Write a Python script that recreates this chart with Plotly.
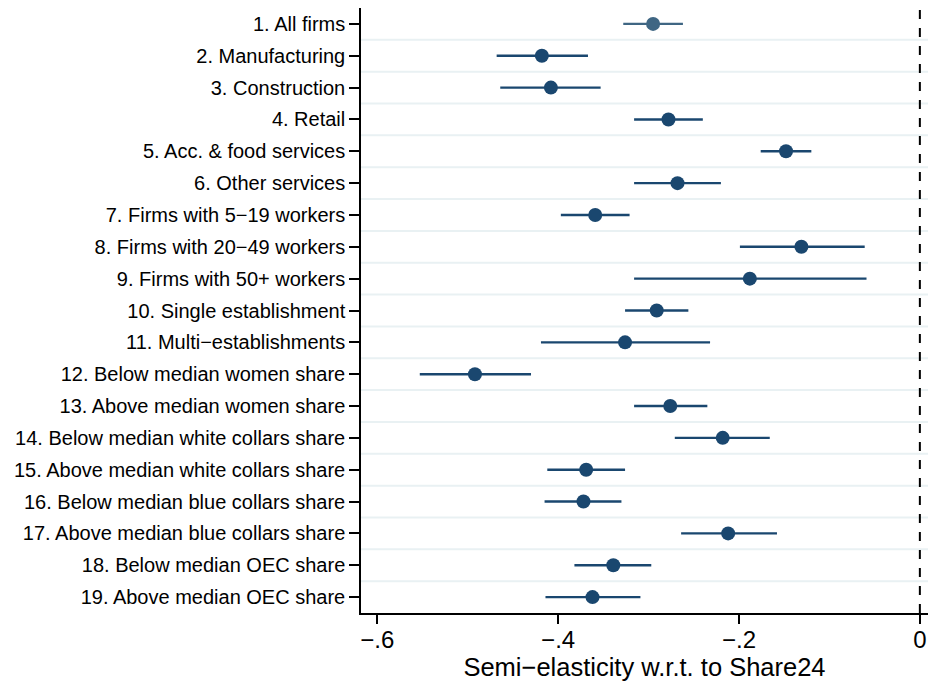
import plotly.graph_objects as go

categories = [
    "1. All firms",
    "2. Manufacturing",
    "3. Construction",
    "4. Retail",
    "5. Acc. & food services",
    "6. Other services",
    "7. Firms with 5−19 workers",
    "8. Firms with 20−49 workers",
    "9. Firms with 50+ workers",
    "10. Single establishment",
    "11. Multi−establishments",
    "12. Below median women share",
    "13. Above median women share",
    "14. Below median white collars share",
    "15. Above median white collars share",
    "16. Below median blue collars share",
    "17. Above median blue collars share",
    "18. Below median OEC share",
    "19. Above median OEC share",
]
estimate = [-0.295, -0.418, -0.408, -0.278, -0.148, -0.268, -0.359, -0.131, -0.188,
            -0.291, -0.326, -0.492, -0.276, -0.218, -0.369, -0.372, -0.212, -0.339, -0.362]
ci_low = [-0.328, -0.468, -0.464, -0.316, -0.176, -0.316, -0.397, -0.199, -0.316,
          -0.326, -0.419, -0.553, -0.316, -0.271, -0.412, -0.415, -0.264, -0.382, -0.414]
ci_high = [-0.262, -0.367, -0.353, -0.240, -0.120, -0.220, -0.321, -0.061, -0.059,
           -0.256, -0.232, -0.430, -0.235, -0.166, -0.326, -0.330, -0.158, -0.297, -0.309]
x_ticks = [-0.6, -0.4, -0.2, 0]
x_tick_labels = ["−.6", "−.4", "−.2", "0"]

pos = list(range(1, len(categories) + 1))
plus = [h - e for h, e in zip(ci_high, estimate)]
minus = [e - l for e, l in zip(estimate, ci_low)]

navy = "#1a476f"
first_col = "#3f6683"

fig = go.Figure()
# gridlines between rows
for i in range(1, len(categories)):
    fig.add_shape(type="line", xref="paper", x0=0, x1=1, yref="y", y0=i + 0.5, y1=i + 0.5,
                  line=dict(color="#e9f1f3", width=2), layer="below")

fig.add_trace(go.Scatter(
    x=estimate[1:], y=pos[1:], mode="markers",
    marker=dict(color=navy, size=14),
    error_x=dict(type="data", array=plus[1:], arrayminus=minus[1:], width=0,
                 thickness=2.4, color=navy),
    showlegend=False,
))
fig.add_trace(go.Scatter(
    x=estimate[:1], y=pos[:1], mode="markers",
    marker=dict(color=first_col, size=14),
    error_x=dict(type="data", array=plus[:1], arrayminus=minus[:1], width=0,
                 thickness=2.4, color=first_col),
    showlegend=False,
))

fig.add_shape(type="line", xref="x", x0=0, x1=0, yref="paper", y0=0, y1=1,
              line=dict(color="black", width=2, dash="dash"))

fig.update_layout(
    width=928, height=684,
    margin=dict(l=361, r=0, t=8, b=71),
    paper_bgcolor="white", plot_bgcolor="white",
    font=dict(family="Liberation Sans, Arial, sans-serif", color="black"),
    xaxis=dict(
        range=[-0.618, 0.009], tickvals=x_ticks, ticktext=x_tick_labels,
        ticks="outside", ticklen=9, tickwidth=1.5, tickcolor="black",
        showline=True, linecolor="black", linewidth=1.5, showgrid=False, zeroline=False,
        tickfont=dict(size=24), ticklabeloverflow="allow", ticklabelstandoff=-5,
        title=dict(text="Semi−elasticity w.r.t. to Share24", font=dict(size=25.5), standoff=0),
    ),
    yaxis=dict(
        range=[len(categories) + 0.5, 0.5], tickvals=pos, ticktext=categories,
        ticks="outside", ticklen=10, tickwidth=1.5, tickcolor="black",
        showline=True, linecolor="black", linewidth=1.5, showgrid=False, zeroline=False,
        tickfont=dict(size=20),
    ),
)

fig.write_html(
    "out.html",
    config={"displayModeBar": False},
    post_script="document.body.style.margin='0';document.body.style.overflow='hidden';",
)
